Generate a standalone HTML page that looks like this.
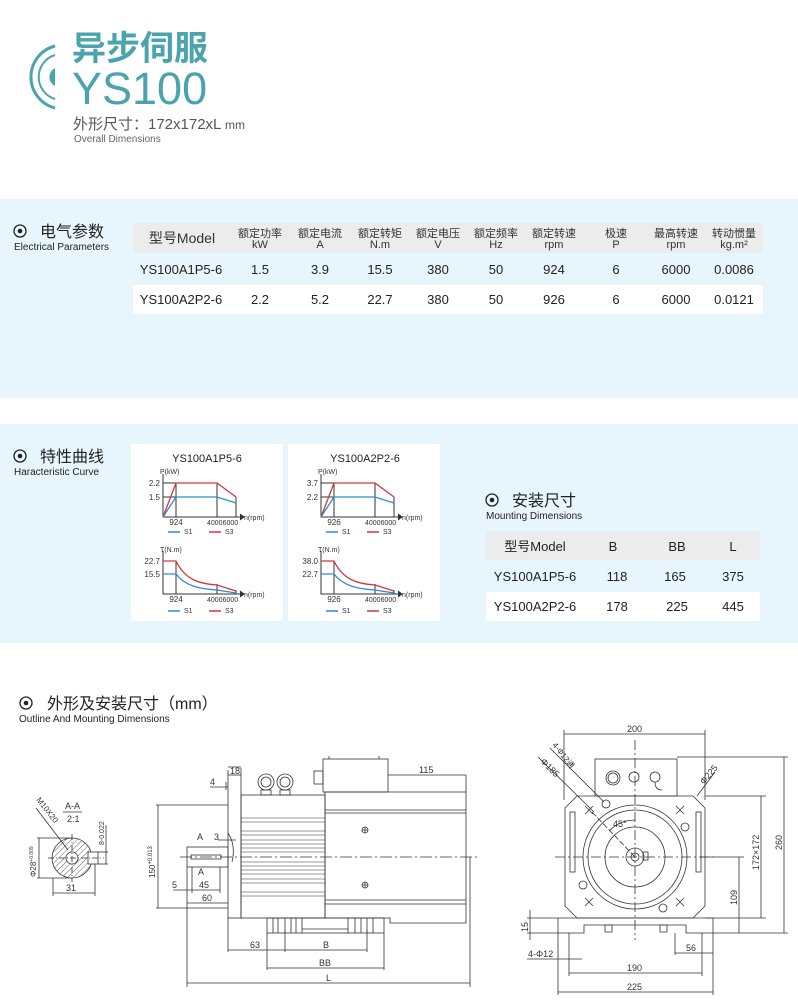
<!DOCTYPE html>
<html><head><meta charset="utf-8"><style>
body{margin:0;width:798px;height:1007px;background:#fff;overflow:hidden}
svg{display:block}
text{font-family:"Liberation Sans","Noto Sans CJK SC",sans-serif}
</style></head><body>
<svg width="798" height="1007" viewBox="0 0 798 1007" xmlns="http://www.w3.org/2000/svg">
<defs>
<pattern id="h" width="4" height="4" patternUnits="userSpaceOnUse" patternTransform="rotate(45)"><line x1="0" y1="0" x2="0" y2="4" stroke="#333" stroke-width="0.8"/></pattern>
</defs>
<!-- header -->
<path d="M55 46 A32 32 0 0 0 55 108" fill="none" stroke="#4aa3ad" stroke-width="3"/>
<path d="M55 55 A23 23 0 0 0 55 99" fill="none" stroke="#4aa3ad" stroke-width="2"/>
<path d="M55 68 A10 10 0 0 0 55 86 Z" fill="#4aa3ad"/>
<text x="72" y="60" font-size="34" font-weight="bold" fill="#4aa3ad" font-family="Liberation Sans,'Noto Sans CJK SC',sans-serif">异步伺服</text>
<text x="72" y="104" font-size="45" fill="#4aa3ad">YS100</text>
<text x="73" y="129" font-size="15" fill="#555">外形尺寸：172x172xL <tspan font-size="12">mm</tspan></text>
<text x="74" y="142" font-size="10" fill="#666">Overall Dimensions</text>

<!-- panels -->
<rect x="0" y="199" width="798" height="199" fill="#e7f5fc"/>
<rect x="0" y="424" width="798" height="219" fill="#e7f5fc"/>

<!-- section headings -->
<g fill="#222">
<circle cx="20" cy="231" r="6" fill="none" stroke="#222" stroke-width="1.3"/><circle cx="20" cy="231" r="2.3"/>
<text x="40" y="237" font-size="16">电气参数</text>
<text x="14" y="250" font-size="10">Electrical Parameters</text>
<circle cx="20" cy="456" r="6" fill="none" stroke="#222" stroke-width="1.3"/><circle cx="20" cy="456" r="2.3"/>
<text x="40" y="462" font-size="16">特性曲线</text>
<text x="14" y="475" font-size="10">Haracteristic Curve</text>
<circle cx="492" cy="500" r="6" fill="none" stroke="#222" stroke-width="1.3"/><circle cx="492" cy="500" r="2.3"/>
<text x="512" y="506" font-size="16">安装尺寸</text>
<text x="486" y="519" font-size="10">Mounting Dimensions</text>
<circle cx="26" cy="703" r="6" fill="none" stroke="#222" stroke-width="1.3"/><circle cx="26" cy="703" r="2.3"/>
<text x="47" y="709" font-size="16">外形及安装尺寸（mm）</text>
<text x="19" y="722" font-size="10">Outline And Mounting Dimensions</text>
</g>

<!-- electrical table -->
<rect x="133" y="223" width="630" height="30" fill="#ececec"/>
<rect x="133" y="285" width="630" height="29" fill="#fff"/>
<g font-size="11" fill="#333" text-anchor="middle">
<text x="182" y="243" font-size="14">型号Model</text>
<text x="260" y="237">额定功率</text><text x="260" y="248">kW</text>
<text x="320" y="237">额定电流</text><text x="320" y="248">A</text>
<text x="380" y="237">额定转矩</text><text x="380" y="248">N.m</text>
<text x="438" y="237">额定电压</text><text x="438" y="248">V</text>
<text x="496" y="237">额定频率</text><text x="496" y="248">Hz</text>
<text x="554" y="237">额定转速</text><text x="554" y="248">rpm</text>
<text x="616" y="237">极速</text><text x="616" y="248">P</text>
<text x="676" y="237">最高转速</text><text x="676" y="248">rpm</text>
<text x="734" y="237">转动惯量</text><text x="734" y="248">kg.m²</text>
</g>
<g font-size="13" fill="#222" text-anchor="middle">
<text x="181" y="274">YS100A1P5-6</text><text x="260" y="274">1.5</text><text x="320" y="274">3.9</text><text x="380" y="274">15.5</text><text x="438" y="274">380</text><text x="496" y="274">50</text><text x="554" y="274">924</text><text x="616" y="274">6</text><text x="676" y="274">6000</text><text x="734" y="274">0.0086</text>
<text x="181" y="304">YS100A2P2-6</text><text x="260" y="304">2.2</text><text x="320" y="304">5.2</text><text x="380" y="304">22.7</text><text x="438" y="304">380</text><text x="496" y="304">50</text><text x="554" y="304">926</text><text x="616" y="304">6</text><text x="676" y="304">6000</text><text x="734" y="304">0.0121</text>
</g>

<!-- curve cards -->
<rect x="131" y="444" width="152" height="177" fill="#fff"/>
<rect x="288" y="444" width="152" height="177" fill="#fff"/>
<g id="c1">
<g stroke="#333" stroke-width="1" fill="none">
<path d="M163 474 V517 H243"/><path d="M240 514 L244 517 L240 520" fill="#333"/>
<path d="M163 551 V594 H243"/><path d="M240 591 L244 594 L240 597" fill="#333"/>
<path d="M176 483 V517 M217 483 V517 M236 497 V517 M163 483 H176 M163 497 H176"/>
<path d="M176 561 V594 M217 584 V594 M236 590 V594 M163 561 H176 M163 574 H176"/>
</g>
<path d="M163 517 L176 483 H217 L236 497" stroke="#d8343c" stroke-width="1.3" fill="none"/>
<path d="M163 517 L176 497 H217 L236 503" stroke="#2a8fd0" stroke-width="1.3" fill="none"/>
<path d="M163 561 H176 C185 580 200 584 217 585 L236 591" stroke="#d8343c" stroke-width="1.3" fill="none"/>
<path d="M163 574 H176 C185 586 200 589 217 590 L236 593" stroke="#2a8fd0" stroke-width="1.3" fill="none"/>
<g font-size="7" fill="#333">
<text x="160" y="474">P(kW)</text><text x="160" y="552">T(N.m)</text>
<text x="244" y="520">n(rpm)</text><text x="244" y="597">n(rpm)</text>
<text x="207" y="525">40006000</text><text x="207" y="602">40006000</text>
</g>
<g stroke-width="1.5"><line x1="168" y1="532" x2="180" y2="532" stroke="#2a8fd0"/><line x1="209" y1="532" x2="221" y2="532" stroke="#d8343c"/>
<line x1="168" y1="611" x2="180" y2="611" stroke="#2a8fd0"/><line x1="209" y1="611" x2="221" y2="611" stroke="#d8343c"/></g>
<g font-size="7" fill="#333"><text x="184" y="534">S1</text><text x="225" y="534">S3</text><text x="184" y="613">S1</text><text x="225" y="613">S3</text></g>
</g>
<use href="#c1" transform="translate(158,0)"/>
<g font-size="8" fill="#333" text-anchor="end">
<text x="160" y="486">2.2</text><text x="160" y="500">1.5</text><text x="160" y="564">22.7</text><text x="160" y="577">15.5</text>
<text x="318" y="486">3.7</text><text x="318" y="500">2.2</text><text x="318" y="564">38.0</text><text x="318" y="577">22.7</text>
</g>
<g font-size="8" fill="#333" text-anchor="middle">
<text x="176" y="525">924</text><text x="176" y="602">924</text><text x="334" y="525">926</text><text x="334" y="602">926</text>
</g>
<text x="207" y="462" font-size="11" fill="#222" text-anchor="middle">YS100A1P5-6</text>
<text x="365" y="462" font-size="11" fill="#222" text-anchor="middle">YS100A2P2-6</text>

<!-- mounting table -->
<rect x="486" y="531" width="274" height="29" fill="#ececec"/>
<rect x="486" y="592" width="274" height="29" fill="#fff"/>
<g font-size="13" fill="#222" text-anchor="middle">
<text x="535" y="551">型号Model</text><text x="613" y="551">B</text><text x="677" y="551">BB</text><text x="733" y="551">L</text>
<text x="535" y="581">YS100A1P5-6</text><text x="617" y="581">118</text><text x="675" y="581">165</text><text x="733" y="581">375</text>
<text x="535" y="611">YS100A2P2-6</text><text x="617" y="611">178</text><text x="677" y="611">225</text><text x="733" y="611">445</text>
</g>

<!-- section A-A -->
<g stroke="#333" stroke-width="0.8" fill="none">
<circle cx="72" cy="858" r="20" fill="url(#h)"/>
<circle cx="72" cy="858" r="6" fill="#fff"/>
<rect x="88" y="852" width="10" height="12" fill="#fff" stroke="#333"/>
<line x1="48" y1="858" x2="104" y2="858" stroke-dasharray="6 2 1 2"/>
<line x1="72" y1="834" x2="72" y2="882" stroke-dasharray="6 2 1 2"/>
<line x1="39" y1="838" x2="39" y2="878"/><line x1="37" y1="838" x2="72" y2="838"/><line x1="37" y1="878" x2="72" y2="878"/>
<line x1="53" y1="878" x2="53" y2="896"/><line x1="95" y1="864" x2="95" y2="896"/><line x1="53" y1="893" x2="95" y2="893"/>
<line x1="106" y1="825" x2="106" y2="864"/><line x1="98" y1="852" x2="108" y2="852"/><line x1="98" y1="864" x2="108" y2="864"/>
<line x1="36" y1="808" x2="68" y2="850"/>
<line x1="63" y1="812" x2="82" y2="812"/>
</g>
<g font-size="9" fill="#333">
<text x="65" y="809">A-A</text><text x="67" y="822">2:1</text><text x="66" y="891">31</text>
<text transform="translate(36,877) rotate(-90)" font-size="8">Φ28<tspan font-size="5" dy="-3">+0.009</tspan></text>
<text transform="translate(104,845) rotate(-90)" font-size="7">8-0.022</text>
<text transform="translate(36,800) rotate(52)" font-size="8">M10X20</text>
</g>

<!-- side view -->
<g stroke="#333" stroke-width="0.8" fill="none">
<rect x="228" y="775" width="13" height="143"/>
<rect x="241" y="795" width="84" height="123"/>
<g stroke-width="0.6">
<path d="M241 818H325M241 822H325M241 831H325M241 835H325M241 840H325M241 844H325M241 848H325M241 852H325M241 862H325M241 866H325M241 870H325M241 874H325M241 879H325M241 883H325M241 892H325M241 896H325"/>
</g>
<path d="M325 792 H466 V923 H390 V918 H325 Z"/>
<path d="M325 810 H466 M325 813 H466 M325 900 H466 M325 904 H466"/>
<rect x="323" y="759" width="65" height="33"/>
<path d="M329 759 V756 M379 759 V756"/>
<rect x="314" y="771" width="9" height="13"/>
<circle cx="266" cy="782" r="8"/><circle cx="266" cy="782" r="5"/><rect x="261" y="790" width="10" height="5"/>
<circle cx="285" cy="782" r="8"/><circle cx="285" cy="782" r="5"/><rect x="280" y="790" width="10" height="5"/>
<circle cx="365" cy="830" r="3"/><path d="M362 830H368M365 827V833"/>
<circle cx="365" cy="885" r="3"/><path d="M362 885H368M365 882V888"/>
<rect x="187" y="847" width="41" height="20"/>
<rect x="191" y="855" width="30" height="4"/>
<rect x="267" y="918" width="117" height="15"/>
<path d="M273 918V933M278 918V933M285 918V933M291 918V933M296 918V933M302 918V933M348 918V933M355 918V933M361 918V933M367 918V933M373 918V933M302 929H348"/>
<line x1="180" y1="857" x2="477" y2="857" stroke-dasharray="12 3 2 3"/>
<path d="M228 833 Q236 845 232 862"/>
<!-- dims -->
<path d="M156 805 H228 M156 908 H228 M158 805 V908"/>
<path d="M228 770 V775 M241 768 V775 M228 767 H241"/>
<path d="M210 787 H228 M226 782 V790"/>
<path d="M218 840 H236"/>
<path d="M173 890 H220 M192 867 V893 M220 867 V893"/>
<path d="M187 867 V987 M187 903 H228"/>
<path d="M228 918 V952 M285 930 V952 M367 930 V952 M228 950 H367"/>
<path d="M267 933 V970 M384 933 V970 M267 968 H384"/>
<path d="M470 857 V987 M187 983 H470"/>
<path d="M388 775 H466 M466 775 V792"/>
</g>
<g font-size="9" fill="#333">
<text x="230" y="774">18</text><text x="210" y="785">4</text><text x="214" y="840">3</text>
<text x="197" y="840">A</text><text x="198" y="875">A</text>
<text x="172" y="888">5</text><text x="199" y="888">45</text><text x="202" y="901">60</text>
<text x="250" y="948">63</text><text x="323" y="948">B</text><text x="319" y="966">BB</text><text x="326" y="981">L</text>
<text x="419" y="773">115</text>
<text transform="translate(155,878) rotate(-90)" font-size="8">150<tspan font-size="6" dy="-3">+0.013</tspan></text>
</g>

<!-- front view -->
<g stroke="#333" stroke-width="0.8" fill="none">
<rect x="595" y="759" width="82" height="37"/>
<circle cx="613" cy="778" r="7"/><circle cx="613" cy="778" r="5"/>
<circle cx="634" cy="777" r="5"/>
<circle cx="655" cy="777" r="5"/><path d="M655 782 Q655 790 662 790"/>
<path d="M577 796 L565 808 V906 L577 918 H693 L705 906 V808 L693 796 Z"/>
<rect x="570" y="812" width="5" height="60"/><rect x="696" y="812" width="5" height="60"/>
<circle cx="635" cy="857" r="52"/><circle cx="635" cy="857" r="47"/><circle cx="635" cy="857" r="30"/>
<circle cx="635" cy="857" r="9"/><circle cx="635" cy="857" r="4"/>
<rect x="643" y="852" width="5" height="8"/>
<circle cx="606" cy="804" r="4"/><circle cx="685" cy="827" r="4"/><circle cx="583" cy="885" r="4"/><circle cx="663" cy="908" r="4"/>
<path d="M585 806 l8 8 m0 -8 l-8 8 M676 806 l8 8 m0 -8 l-8 8 M585 898 l8 8 m0 -8 l-8 8 M676 898 l8 8 m0 -8 l-8 8"/>
<path d="M558 918 H713 V933 H686 V925 H584 V933 H558 Z"/>
<path d="M605 925 H612 V932 H605 Z M660 925 H667 V932 H660 Z"/>
<line x1="555" y1="857" x2="715" y2="857" stroke-dasharray="10 3 2 3"/>
<line x1="635" y1="740" x2="635" y2="940" stroke-dasharray="10 3 2 3"/>
<line x1="592" y1="812" x2="635" y2="857" stroke-dasharray="6 2"/>
<path d="M635 820 A37 37 0 0 0 609 831"/>
<path d="M564 730 V800 M705 730 V800 M564 734 H705"/>
<path d="M677 757 H788 M713 933 H788 M784 757 V933"/>
<path d="M705 796 H766 M705 918 H766 M761 796 V918"/>
<path d="M700 857 H744 M739 857 V933"/>
<path d="M569 933 V976 M702 933 V976 M569 973 H702"/>
<path d="M558 933 V995 M713 933 V995 M558 992 H713"/>
<path d="M675 933 V955 M675 953 H713"/>
<path d="M527 918 H558 M527 933 H558 M530 910 V940"/>
<path d="M527 959 H582"/>
<path d="M538 757 L594 812 M550 748 L604 802 M715 772 L697 796"/>
</g>
<g font-size="9" fill="#333">
<text x="627" y="732">200</text><text x="627" y="971">190</text><text x="627" y="990">225</text><text x="686" y="951">56</text>
<text x="528" y="957">4-Φ12</text>
<text x="613" y="827">45°</text>
<text transform="translate(782,850) rotate(-90)">260</text>
<text transform="translate(759,870) rotate(-90)">172×172</text>
<text transform="translate(737,905) rotate(-90)">109</text>
<text transform="translate(528,932) rotate(-90)">15</text>
<text transform="translate(540,762) rotate(45)">Φ185</text>
<text transform="translate(552,745) rotate(52)" font-size="8">4-Φ12通</text>
<text transform="translate(704,785) rotate(-50)">Φ225</text>
</g>
</svg>
</body></html>
